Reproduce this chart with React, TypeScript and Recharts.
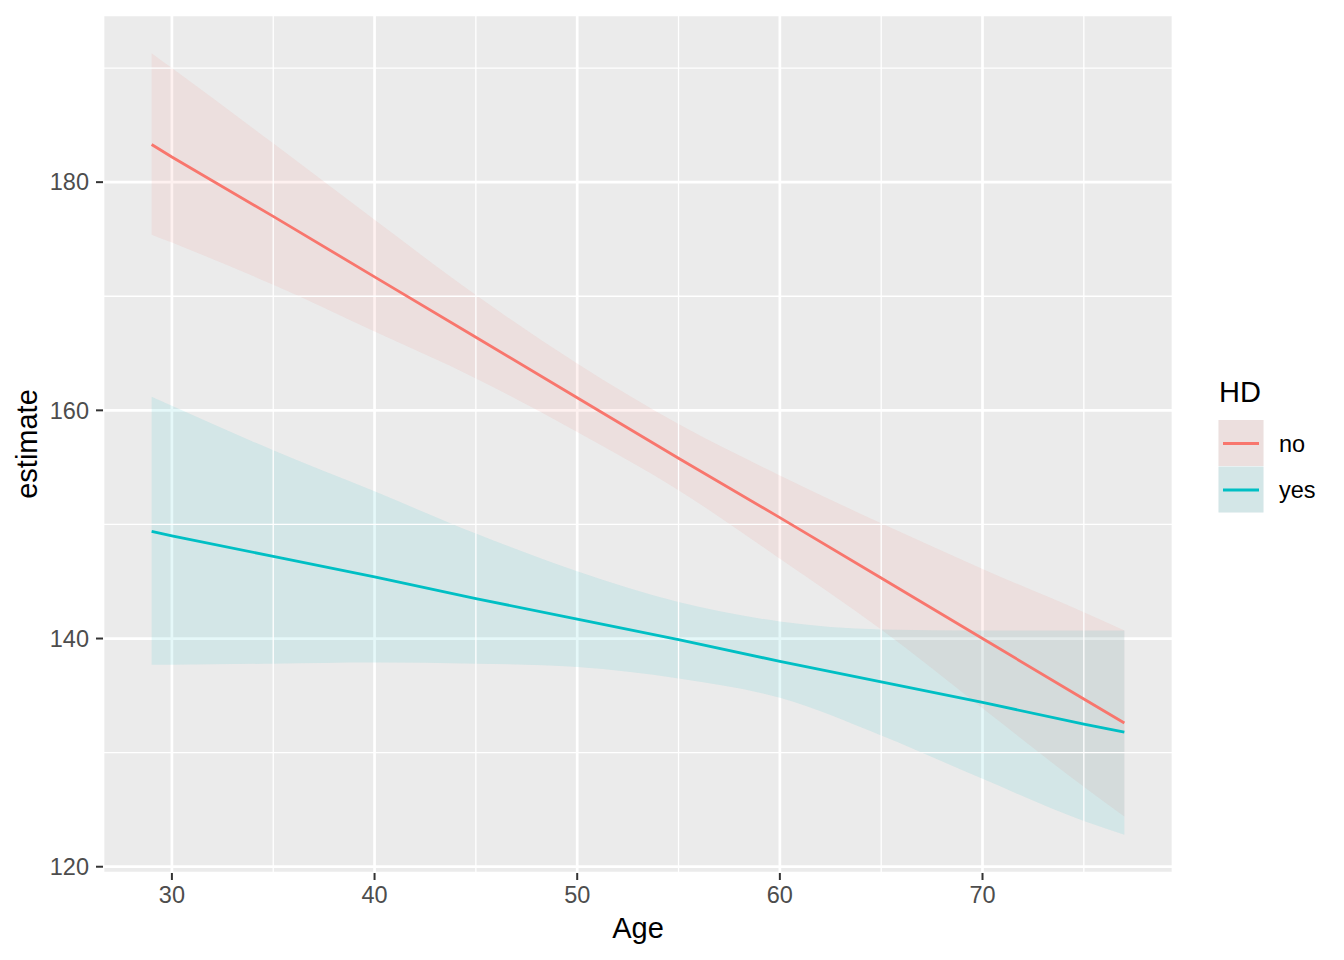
import { ComposedChart, Area, Line, XAxis, YAxis, CartesianGrid, ReferenceLine, Label } from 'recharts'

const FONT = '"Liberation Sans", Arial, Helvetica, sans-serif'
const NO_COLOR = '#F8766D'
const YES_COLOR = '#00BFC4'

// values
const ages = [29, 30, 35, 40, 45, 50, 55, 60, 65, 70, 75, 77]
const noEstimate = [183.3, 182.2, 177.0, 171.7, 166.4, 161.1, 155.8, 150.6, 145.3, 140.0, 134.7, 132.6]
const noLower = [175.4, 174.7, 171.0, 166.9, 162.8, 158.1, 153.0, 147.0, 140.8, 133.9, 127.0, 124.4]
const noUpper = [191.3, 190.0, 183.4, 176.7, 170.1, 164.1, 158.8, 154.3, 150.1, 146.1, 142.3, 140.7]
const yesEstimate = [149.4, 149.0, 147.2, 145.4, 143.5, 141.7, 139.9, 138.0, 136.2, 134.4, 132.5, 131.8]
const yesLower = [137.7, 137.7, 137.8, 137.9, 137.8, 137.5, 136.5, 134.8, 131.5, 127.7, 124.0, 122.8]
const yesUpper = [161.2, 160.4, 156.5, 152.9, 149.2, 145.9, 143.2, 141.5, 140.8, 140.7, 140.7, 140.7]

const xTicks = [30, 40, 50, 60, 70]
const yTicks = [120, 140, 160, 180]
const xMinor = [35, 45, 55, 65, 75]
const yMinor = [130, 150, 170, 190]

const groups = [
    { name: 'no', color: NO_COLOR },
    { name: 'yes', color: YES_COLOR },
]

const data = ages.map((age, i) => ({
    age,
    no: noEstimate[i],
    noBand: [noLower[i], noUpper[i]],
    yes: yesEstimate[i],
    yesBand: [yesLower[i], yesUpper[i]],
}))

const tickStyle = { fill: '#4D4D4D', fontSize: 23.5, fontFamily: FONT }
const tickLine = { stroke: '#333333', strokeWidth: 2 }

function LegendBox() {
    return (
        <svg width={1336} height={952} style={{ position: 'absolute', left: 0, top: 0, pointerEvents: 'none' }}>
            <text x={1211} y={394} fontSize={29} fontFamily={FONT} fill="#000">HD</text>
            {groups.map((g, i) => {
                const top = 412 + i * 46.5
                return (
                    <g key={g.name}>
                        <rect x={1210.5} y={top} width={45} height={46} fill="#EBEBEB" />
                        <rect x={1210.5} y={top} width={45} height={46} fill={g.color} fillOpacity={0.1} />
                        <line x1={1215} x2={1251} y1={top + 23.5} y2={top + 23.5} stroke={g.color} strokeWidth={2.8} />
                        <text x={1271} y={top + 31.5} fontSize={23.5} fontFamily={FONT} fill="#000">{g.name}</text>
                    </g>
                )
            })}
        </svg>
    )
}

export default function App() {
    return (
        <div style={{ position: 'relative', width: 1336, height: 952, fontFamily: FONT }}>
            <ComposedChart width={1336} height={952} data={data} margin={{ top: 7, right: 171, bottom: 0, left: 0 }}>
                <CartesianGrid fill="#EBEBEB" fillOpacity={1} stroke="#FFFFFF" strokeWidth={2.7} />
                {xMinor.map(v => (
                    <ReferenceLine key={'x' + v} x={v} stroke="#FFFFFF" strokeWidth={1.3} />
                ))}
                {yMinor.map(v => (
                    <ReferenceLine key={'y' + v} y={v} stroke="#FFFFFF" strokeWidth={1.3} />
                ))}
                <XAxis
                    type="number"
                    dataKey="age"
                    domain={[26.6, 79.4]}
                    allowDataOverflow
                    ticks={xTicks}
                    height={87}
                    tickSize={7}
                    tickMargin={6}
                    axisLine={false}
                    tickLine={tickLine}
                    tick={tickStyle}
                >
                    <Label value="Age" position="insideBottom" offset={22} style={{ fontSize: 29, fill: '#000', fontFamily: FONT }} />
                </XAxis>
                <YAxis
                    type="number"
                    domain={[119.45, 194.65]}
                    allowDataOverflow
                    ticks={yTicks}
                    width={95}
                    tickSize={7}
                    tickMargin={7}
                    axisLine={false}
                    tickLine={tickLine}
                    tick={tickStyle}
                >
                    <Label
                        value="estimate"
                        angle={-90}
                        position="insideLeft"
                        offset={19}
                        style={{ textAnchor: 'middle', fontSize: 29, fill: '#000', fontFamily: FONT }}
                    />
                </YAxis>
                <Area
                    type="monotone"
                    dataKey="noBand"
                    fill={NO_COLOR}
                    fillOpacity={0.1}
                    stroke="none"
                    isAnimationActive={false}
                />
                <Area
                    type="monotone"
                    dataKey="yesBand"
                    fill={YES_COLOR}
                    fillOpacity={0.1}
                    stroke="none"
                    isAnimationActive={false}
                />
                <Line type="linear" dataKey="no" stroke={NO_COLOR} strokeWidth={2.8} dot={false} isAnimationActive={false} />
                <Line type="linear" dataKey="yes" stroke={YES_COLOR} strokeWidth={2.8} dot={false} isAnimationActive={false} />
            </ComposedChart>
            <LegendBox />
        </div>
    )
}
